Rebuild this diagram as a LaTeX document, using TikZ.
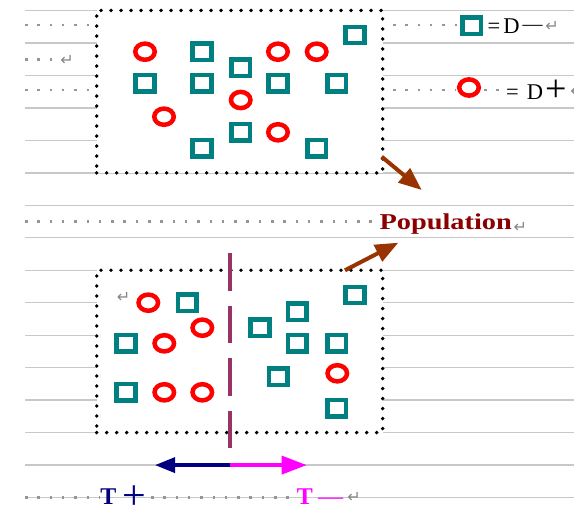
\documentclass[tikz,border=0pt]{standalone}
\usepackage{fontspec}
\setmainfont{Liberation Serif}
\newfontfamily\marksfont{DejaVu Sans}
\usetikzlibrary{shapes.geometric,arrows.meta}

\definecolor{rulegray}{RGB}{200,200,200}
\definecolor{leadergray}{RGB}{150,150,150}
\definecolor{markgray}{RGB}{135,135,135}
\definecolor{dteal}{RGB}{0,128,128}
\definecolor{dred}{RGB}{255,0,0}
\definecolor{arrowbrown}{RGB}{153,51,0}
\definecolor{popred}{RGB}{139,0,0}
\definecolor{cutplum}{RGB}{153,51,102}
\definecolor{tnavy}{RGB}{0,0,128}
\definecolor{tmag}{RGB}{255,0,255}

\tikzset{
  rulerline/.style={draw=rulegray, line width=1.3pt},
  leaderdots/.style={draw=leadergray, line width=2.5pt, dash pattern=on 2.5pt off 9.8pt},
  samplebox/.style={rectangle, draw=black, fill=white, line width=3.8pt, line cap=round,
    dash pattern=on 0pt off 10pt, inner sep=0pt, outer sep=0pt},
  dminus/.style={rectangle, draw=dteal, line width=4.5pt, minimum width=18.8pt,
    minimum height=16.2pt, inner sep=0pt},
  dplus/.style={ellipse, draw=dred, line width=4.5pt, minimum width=19.5pt,
    minimum height=16.2pt, inner sep=0pt},
  flowarrow/.style={draw=arrowbrown, line width=4pt, -{Triangle[length=23pt,width=18pt]}},
  cutline/.style={draw=cutplum, line width=4.5pt, dash pattern=on 37.5pt off 15pt},
  paramark/.style={text=markgray, font=\marksfont\fontsize{16}{16}\selectfont, inner sep=0pt},
  legendtxt/.style={text=black, font=\fontsize{22.5}{24}\selectfont, inner sep=0pt, anchor=base},
  tletter/.style={font=\bfseries\fontsize{24}{26}\selectfont, inner sep=0pt, anchor=base},
  popword/.style={text=popred, font=\bfseries\fontsize{22.7}{26}\selectfont, inner sep=0pt},
}

\begin{document}
\begin{tikzpicture}[x=1pt,y=-1pt]
  \fill[white] (0,0) rectangle (574,508);
  \useasboundingbox (0,0) rectangle (574,508);

  % ruled lines of the page
  \foreach \yy in {10.5,43,75.4,107.9,140.4,172.9,205.3,237.8,270.3,302.7,335.2,367.7,400.1,432.6,465.1,497.6}
    \draw[rulerline] (25,\yy) -- (574,\yy);

  % dotted leaders
  \draw[leaderdots] (25,25) -- (94,25);
  \draw[leaderdots] (25,59.5) -- (53,59.5);
  \draw[leaderdots] (25,90) -- (94,90);
  \draw[leaderdots] (393,25) -- (459,25);
  \draw[leaderdots] (393,90) -- (455,90);
  \draw[leaderdots] (484,90) -- (500,90);
  \draw[leaderdots] (25,221.5) -- (374,221.5);
  \draw[leaderdots] (25,497.6) -- (99,497.6);
  \draw[leaderdots] (151,497.6) -- (296,497.6);

  % the two sample frames
  \node[samplebox, minimum width=286pt, minimum height=162.4pt] (upper) at (239.7,91.7) {};
  \node[samplebox, minimum width=286pt, minimum height=162.3pt] (lower) at (239.7,351.45) {};

  % upper sample
  \node[dplus]  (u1)  at (145,51.7) {};
  \node[dminus] (u2)  at (202,51.7) {};
  \node[dminus] (u3)  at (240.7,67.7) {};
  \node[dplus]  (u4)  at (278,51.7) {};
  \node[dplus]  (u5)  at (316.7,51.7) {};
  \node[dminus] (u6)  at (355,35) {};
  \node[dminus] (u7)  at (145,83.3) {};
  \node[dminus] (u8)  at (202,83.3) {};
  \node[dminus] (u9)  at (278,83.3) {};
  \node[dminus] (u10) at (336.7,83.3) {};
  \node[dplus]  (u11) at (240.7,100) {};
  \node[dplus]  (u12) at (164,116.7) {};
  \node[dminus] (u13) at (240.7,132.3) {};
  \node[dplus]  (u14) at (278,132.3) {};
  \node[dminus] (u15) at (202,148.3) {};
  \node[dminus] (u16) at (316.7,148.3) {};

  % lower sample
  \node[dplus]  (l1)  at (148.3,302.7) {};
  \node[dminus] (l2)  at (187.3,302.7) {};
  \node[dplus]  (l3)  at (202.3,327.7) {};
  \node[dminus] (l4)  at (126,343.3) {};
  \node[dplus]  (l5)  at (164.3,343.3) {};
  \node[dminus] (l6)  at (126,392.3) {};
  \node[dplus]  (l7)  at (164.3,392.3) {};
  \node[dplus]  (l8)  at (202.3,392.3) {};
  \node[dminus] (l9)  at (260,327.7) {};
  \node[dminus] (l10) at (297.3,311.7) {};
  \node[dminus] (l11) at (297.3,343.3) {};
  \node[dminus] (l12) at (336.7,343.3) {};
  \node[dminus] (l13) at (355,295) {};
  \node[dminus] (l14) at (278.3,376.7) {};
  \node[dplus]  (l15) at (337.3,373.3) {};
  \node[dminus] (l16) at (336.7,408.3) {};

  % legend, each line set on one baseline
  \node[dminus] (keyminus) at (471.7,25.8) {};
  \node[legendtxt] (keyeq1) at (494,33.3) {=};
  \node[legendtxt] (keyd1) at (511.5,33.3) {D};
  \node[legendtxt, font=\fontsize{20}{20}\selectfont] (keydash) at (532.5,30.5) {—};
  \node[dplus] (keyplus) at (469,87.5) {};
  \node[legendtxt] (keyeq2) at (512.5,100) {=};
  \node[legendtxt] (keyd2) at (535,100) {D};
  \node[legendtxt, font=\fontsize{38}{38}\selectfont] (keyplussign) at (556.7,102) {+};

  % population label and flows
  \node[popword, anchor=base west] (pop) at (379.3,230) {\scalebox{1.25}[1]{Population}};
  \coordinate (popin) at (421.7,190);
  \coordinate (popout) at (398.3,242.7);
  \draw[flowarrow] ([xshift=-1pt,yshift=16.2pt]upper.south east) -- (popin);
  \draw[flowarrow] ([xshift=105.3pt]lower.north) -- (popout);

  % cut through the lower sample and the two directions
  \coordinate (cuttop) at (230,253.3);
  \coordinate (cutbot) at (230,448.3);
  \draw[cutline] (cuttop) -- (cutbot);
  \coordinate (split) at (230,465.1);
  \coordinate (tleft) at (155,465.1);
  \coordinate (tright) at (306.7,465.1);
  \draw[draw=tnavy, line width=3.5pt, -{Triangle[length=20pt,width=15pt]}] (split) -- (tleft);
  \draw[draw=tmag, line width=3.5pt, -{Triangle[length=25pt,width=18pt]}] (split) -- (tright);

  % direction labels
  \node[tletter, text=tnavy] (tplus) at (108.3,504.5) {T};
  \node[text=tnavy, font=\fontsize{42}{42}\selectfont, inner sep=0pt, anchor=base] (tplussign) at (134,509) {+};
  \node[tletter, text=tmag] (tminus) at (304.8,504.5) {T};
  \node[text=tmag, font=\fontsize{25}{25}\selectfont, inner sep=0pt, anchor=base] (tminusdash) at (330.5,504.5) {—};

  % paragraph marks
  \node[paramark] (pm1) at (67,60) {↵};
  \node[paramark] (pm2) at (552,26.7) {↵};
  \node[paramark] (pm3) at (577,91) {↵};
  \node[paramark] (pm4) at (520.3,227) {↵};
  \node[paramark] (pm5) at (354,497.5) {↵};
  \node[paramark] (pm6) at (123.5,297) {↵};
\end{tikzpicture}
\end{document}
